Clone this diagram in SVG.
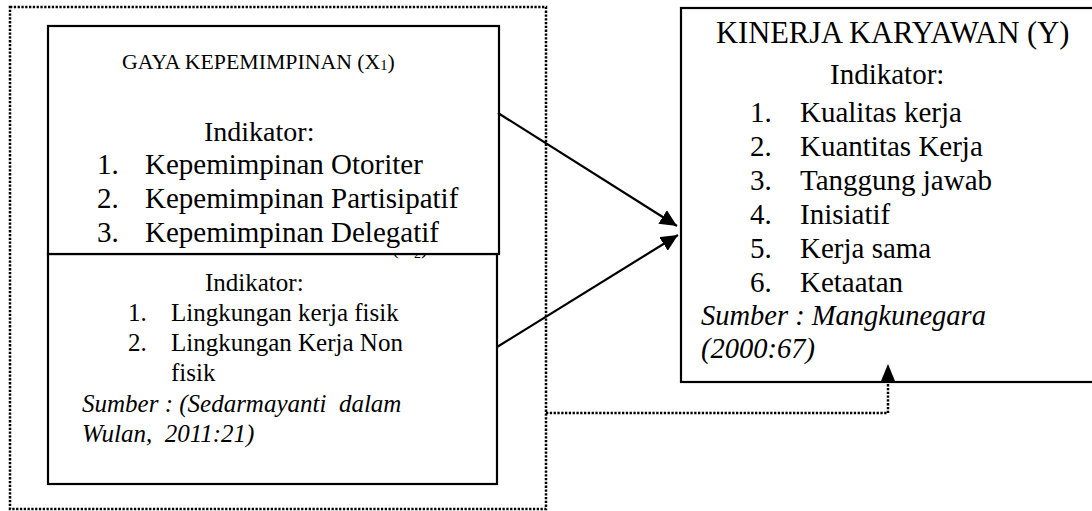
<svg xmlns="http://www.w3.org/2000/svg" width="1092" height="511" viewBox="0 0 1092 511">
<style>
.box{fill:#fff;stroke:#000;stroke-width:2.2}
.dot{fill:none;stroke:#000;stroke-width:2.5;stroke-dasharray:2.3 1.5}
.t{font-family:'Liberation Serif','Times New Roman','DejaVu Serif',serif;fill:#000}
.i{font-style:italic}
.ln{stroke:#000;stroke-width:2.2;fill:none}
</style>
<defs>
<marker id="ah" markerUnits="userSpaceOnUse" markerWidth="18" markerHeight="16" refX="17" refY="8" orient="auto">
<path d="M0,0 L17,8 L0,16 Z" fill="#000"/>
</marker>
</defs>
<g id="frame">
<rect class="dot" x="10" y="7" width="536" height="502"/>
</g>
<g id="lingkungan">
<rect class="box" x="48" y="254" width="449" height="230"/>
<text class="t" x="428" y="254" font-size="21" text-anchor="end">(X<tspan font-size="14" dy="4">2</tspan><tspan dy="-4">)</tspan></text>
<text class="t" x="205" y="291" font-size="25">Indikator:</text>
<text class="t" x="128" y="321" font-size="25">1.</text>
<text class="t" x="171" y="321" font-size="25">Lingkungan kerja fisik</text>
<text class="t" x="128" y="351" font-size="25">2.</text>
<text class="t" x="171" y="351" font-size="25">Lingkungan Kerja Non</text>
<text class="t" x="171" y="381" font-size="25">fisik</text>
<text class="t i" x="82" y="412" font-size="25" xml:space="preserve">Sumber : (Sedarmayanti  dalam</text>
<text class="t i" x="82" y="442" font-size="25" xml:space="preserve">Wulan,  2011:21)</text>
</g>
<g id="gaya">
<rect class="box" x="48" y="26" width="451" height="228"/>
<text class="t" x="122" y="69" font-size="21.8">GAYA KEPEMIMPINAN (X<tspan font-size="14.5" dy="1">1</tspan><tspan dy="-1">)</tspan></text>
<text class="t" x="204" y="141" font-size="28">Indikator:</text>
<text class="t" x="97" y="174" font-size="29">1.</text>
<text class="t" x="145" y="174" font-size="29">Kepemimpinan Otoriter</text>
<text class="t" x="97" y="208" font-size="29">2.</text>
<text class="t" x="145" y="208" font-size="29">Kepemimpinan Partisipatif</text>
<text class="t" x="97" y="242" font-size="29">3.</text>
<text class="t" x="145" y="242" font-size="29">Kepemimpinan Delegatif</text>
</g>
<g id="kinerja">
<rect class="box" x="681" y="8" width="420" height="374"/>
<text class="t" x="716" y="43" font-size="30.5">KINERJA KARYAWAN (Y)</text>
<text class="t" x="830" y="84" font-size="29">Indikator:</text>
<text class="t" x="750" y="122" font-size="29">1.</text>
<text class="t" x="800" y="122" font-size="29">Kualitas kerja</text>
<text class="t" x="750" y="156" font-size="29">2.</text>
<text class="t" x="800" y="156" font-size="29">Kuantitas Kerja</text>
<text class="t" x="750" y="190" font-size="29">3.</text>
<text class="t" x="800" y="190" font-size="29">Tanggung jawab</text>
<text class="t" x="750" y="224" font-size="29">4.</text>
<text class="t" x="800" y="224" font-size="29">Inisiatif</text>
<text class="t" x="750" y="258" font-size="29">5.</text>
<text class="t" x="800" y="258" font-size="29">Kerja sama</text>
<text class="t" x="750" y="292" font-size="29">6.</text>
<text class="t" x="800" y="292" font-size="29">Ketaatan</text>
<text class="t i" x="701" y="325" font-size="28.5">Sumber : Mangkunegara</text>
<text class="t i" x="701" y="358" font-size="28.5">(2000:67)</text>
</g>
<g id="connectors">
<line class="ln" x1="498" y1="113" x2="677" y2="226" marker-end="url(#ah)"/>
<line class="ln" x1="497" y1="347" x2="678" y2="235" marker-end="url(#ah)"/>
<polyline class="dot" points="546,413 888,413 888,380"/>
<path d="M888,364 L881,381 L895,381 Z" fill="#000"/>
</g>
</svg>
